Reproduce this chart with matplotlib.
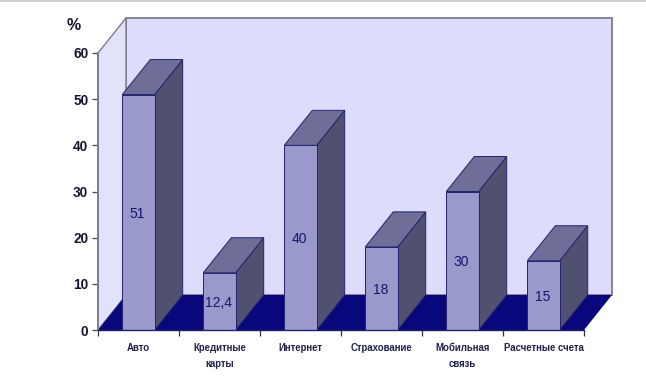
import matplotlib
matplotlib.use("Agg")
import matplotlib.pyplot as plt
from matplotlib.patches import Polygon, Rectangle

categories = ["Авто", "Кредитные\nкарты", "Интернет", "Страхование", "Мобильная\nсвязь", "Расчетные счета"]
values = [51, 12.4, 40, 18, 30, 15]
value_labels = ["51", "12,4", "40", "18", "30", "15"]
y_ticks = [0, 10, 20, 30, 40, 50, 60]

W, H = 646, 385
L, R, B, T = 98, 584, 330, 53
DX = 28 / 81
DY = 35 / ((B - T) / 60)
BAR_W = 0.4

plt.rcParams["font.family"] = ["Liberation Sans", "DejaVu Sans"]

fig = plt.figure(figsize=(W / 100, H / 100), dpi=100, facecolor="white")
ax = fig.add_axes([L / W, 1 - B / H, (R - L) / W, (B - T) / H])
ax.set_facecolor("none")
ax.set_xlim(0, 6)
ax.set_ylim(0, 60)

fig.add_artist(Rectangle((0, 1 - 1.5 / H), 1, 1.5 / H, transform=fig.transFigure,
                         facecolor="#CFCFCF", edgecolor="none"))

n = len(categories)
wall = "#DDDDFB"
wall_edge = "#7C7C90"
ax.add_patch(Polygon([(DX, DY), (n + DX, DY), (n + DX, 60 + DY), (DX, 60 + DY)],
                     closed=True, facecolor=wall, edgecolor=wall_edge, lw=1.3, clip_on=False, zorder=1))
ax.add_patch(Polygon([(0, 0), (DX, DY), (DX, 60 + DY), (0, 60)],
                     closed=True, facecolor="#E2E2FA", edgecolor=wall_edge, lw=1.0, clip_on=False, zorder=1))
ax.add_patch(Polygon([(0, 0), (n, 0), (n + DX, DY), (DX, DY)],
                     closed=True, facecolor="#08087C", edgecolor="none", clip_on=False, zorder=2))

centers = [i + 0.5 for i in range(n)]
edge = "#23236E"
for i, (c, v) in enumerate(zip(centers, values)):
    x0, x1 = c - BAR_W / 2, c + BAR_W / 2
    z = 3 + i
    ax.add_patch(Polygon([(x1, 0), (x1 + DX, DY), (x1 + DX, v + DY), (x1, v)], closed=True,
                         facecolor="#505070", edgecolor=edge, lw=0.7, clip_on=False, zorder=z))
    ax.add_patch(Polygon([(x0, v), (x1, v), (x1 + DX, v + DY), (x0 + DX, v + DY)], closed=True,
                         facecolor="#6E6E99", edgecolor=edge, lw=0.7, clip_on=False, zorder=z))
    ax.bar(c, v, width=BAR_W, color="#9999CC", edgecolor=edge, lw=0.7, clip_on=False, zorder=z + 0.5)
    ax.annotate(value_labels[i], (c, v / 2), xytext=(-1, -1.5), textcoords="offset pixels",
                ha="center", va="center", fontsize=10, fontweight="medium",
                color="#15156E", zorder=20)

for s in ["top", "right"]:
    ax.spines[s].set_visible(False)
ax.spines["left"].set_color(wall_edge)
ax.spines["left"].set_linewidth(1.3)
ax.spines["bottom"].set_color("#20206A")
ax.spines["bottom"].set_linewidth(1.0)
ax.spines["left"].set_zorder(15)
ax.spines["bottom"].set_zorder(15)

ax.set_yticks(y_ticks)
ax.tick_params(axis="y", length=4, width=0.9, color="#444455", pad=3, labelsize=9.8, labelcolor="#15152F")
for t in ax.get_yticklabels():
    t.set_fontweight("bold")

ax.set_xticks(range(n + 1))
ax.set_xticklabels([""] * (n + 1))
ax.tick_params(axis="x", which="major", length=4, width=0.9, color="#333344")
ax.set_xticks(centers, minor=True)
ax.set_xticklabels(categories, minor=True, fontsize=6.9, fontweight="bold", color="#22224A", linespacing=1.75)
ax.tick_params(axis="x", which="minor", length=0, pad=9.5)
for t in ax.get_xticklabels(minor=True):
    t.set_verticalalignment("top")

fig.text(74 / W, 1 - 25 / H, "%", ha="center", va="center", fontsize=11.5, fontweight="bold", color="#15152F")

fig.savefig("out.png", dpi=100, facecolor="white")
